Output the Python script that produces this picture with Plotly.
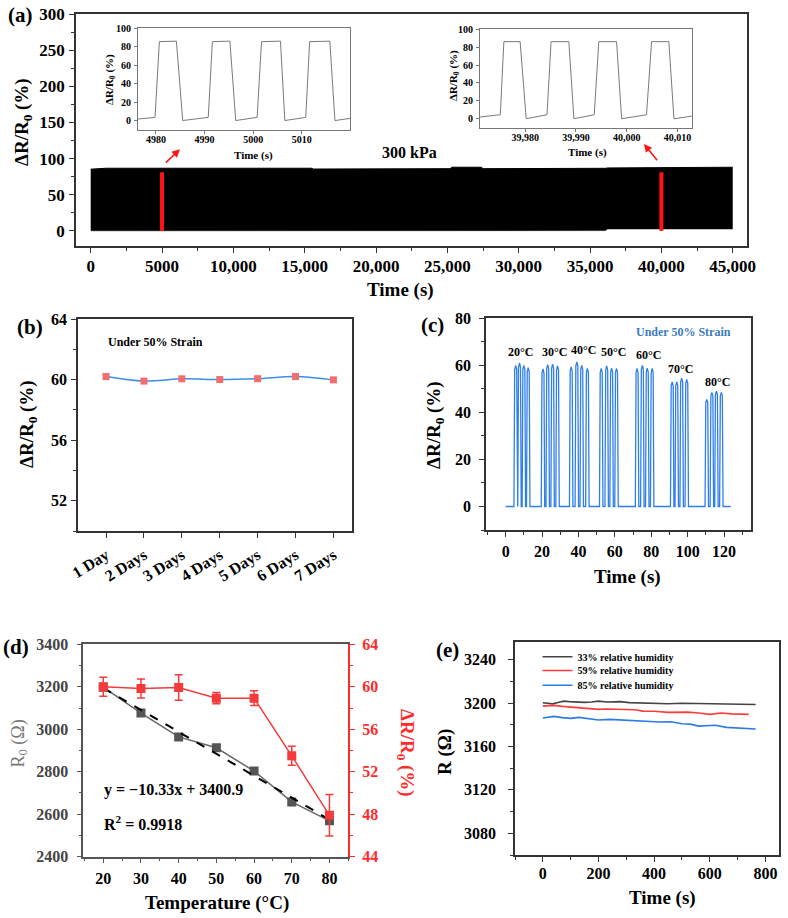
import plotly.graph_objects as go

W, H = 788, 918
FONT = "Liberation Serif"

# ---------------- Panel (a) data ----------------
a_env_t = [0, 1100, 15500, 15600, 25200, 25300, 27400, 27500, 36100, 36200, 45000]
a_env_upper = [85.3, 86.6, 86.6, 85.5, 86.0, 88.0, 88.0, 86.0, 86.5, 87.0, 88.0]
a_env_lower = [0.0, 0.0, 0.0, 0.6, 0.5, 0.5, 0.5, 0.5, 0.3, 2.5, 2.5]
a_marked_t = [5000, 40000]
a_marked_top = [81, 81]
a_xtickvals = [0, 5000, 10000, 15000, 20000, 25000, 30000, 35000, 40000, 45000]
a_xticktext = ["0", "5000", "10,000", "15,000", "20,000", "25,000", "30,000", "35,000", "40,000", "45,000"]

ins1_t = [4976.3, 4979.8, 4980.7, 4984.2, 4985.5, 4990.75, 4991.6, 4995.2, 4996.4,
          5000.8, 5001.7, 5005.6, 5006.5, 5010.8, 5011.6, 5015.75, 5016.8, 5019.9]
ins1_v = [1.8, 3.6, 85.3, 85.8, 0.2, 3.6, 85.3, 85.8, 0.2,
          3.6, 85.3, 85.8, 0.2, 3.6, 85.3, 85.8, 0.2, 2.5]
ins2_t = [39971.1, 39975.1, 39975.8, 39979.0, 39980.2, 39984.3, 39985.1, 39988.6, 39989.6,
          39993.6, 39994.5, 39998.0, 39999.0, 40003.9, 40004.9, 40008.3, 40009.3, 40012.9]
ins2_v = [1.9, 4.5, 86.2, 86.2, 0.0, 4.5, 86.2, 86.2, 0.0,
          4.5, 86.2, 86.2, 0.0, 4.5, 86.2, 86.2, 0.0, 3.0]

# ---------------- Panel (b) data ----------------
b_days = ["1 Day", "2 Days", "3 Days", "4 Days", "5 Days", "6 Days", "7 Days"]
b_vals = [60.2, 59.9, 60.05, 60.0, 60.06, 60.2, 59.98]

# ---------------- Panel (c) data ----------------
c_peak_t = [5.5, 7.6, 10.0, 12.4, 20.5, 23.1, 25.8, 28.5, 36.0, 39.1, 41.8, 44.9,
            52.5, 55.5, 58.2, 60.9, 72.2, 75.1, 77.8, 80.5, 91.5, 94.0, 96.7, 99.5,
            110.5, 113.3, 115.8, 118.5]
c_peak_h = [60.0, 61.0, 60.0, 59.0, 58.5, 60.3, 60.5, 59.8, 59.3, 61.5, 60.0, 58.7,
            58.7, 59.8, 58.8, 58.7, 58.7, 60.0, 58.8, 58.7, 53.0, 53.0, 54.5, 54.0,
            45.5, 48.5, 49.0, 48.5]
c_t_start, c_t_end = 0.0, 123.6
c_labels = ["20°C", "30°C", "40°C", "50°C", "60°C", "70°C", "80°C"]
c_label_x = [7.9, 27.0, 43.0, 59.0, 78.7, 96.3, 116.6]
c_label_y = [65.7, 65.7, 66.6, 65.7, 64.4, 58.5, 53.0]

# ---------------- Panel (d) data ----------------
d_temp = [20, 30, 40, 50, 60, 70, 80]
d_r0 = [3198, 3076, 2964, 2913, 2803, 2658, 2569]
d_resp = [60.0, 59.84, 59.94, 58.93, 58.93, 53.5, 47.9]
d_err = [0.9, 0.9, 1.2, 0.53, 0.7, 0.9, 1.96]
d_fit_slope, d_fit_intercept = -10.33, 3400.9

# ---------------- Panel (e) data ----------------
e33_t = [0, 20, 35, 55, 75, 95, 120, 150, 175, 200, 230, 260, 280, 310, 350, 400, 450, 500, 550, 600, 650, 700, 765]
e33_r = [3200.3, 3199.8, 3199.3, 3200.6, 3201.8, 3201.3, 3200.9, 3200.6, 3201.0, 3201.8, 3201.0, 3201.2,
         3201.3, 3200.4, 3200.0, 3199.7, 3199.4, 3199.8, 3199.6, 3200.0, 3199.3, 3199.4, 3198.7]
e59_t = [0, 20, 40, 70, 100, 140, 170, 200, 230, 260, 300, 330, 360, 400, 450, 480, 520, 560, 600, 640, 680, 740]
e59_r = [3197.2, 3197.6, 3197.9, 3197.0, 3196.3, 3195.6, 3195.0, 3194.2, 3194.6, 3194.3, 3194.2, 3193.8,
         3192.6, 3192.4, 3191.4, 3191.8, 3191.7, 3190.9, 3189.6, 3190.8, 3190.0, 3189.6]
e85_t = [0, 20, 40, 70, 100, 130, 160, 200, 240, 300, 340, 380, 420, 460, 500, 530, 560, 600, 620, 660, 700, 740, 765]
e85_r = [3186.2, 3187.0, 3187.7, 3186.6, 3185.9, 3186.8, 3186.0, 3184.4, 3185.0, 3184.1, 3184.0, 3183.4,
         3182.5, 3182.8, 3181.0, 3180.6, 3178.8, 3179.3, 3179.5, 3177.6, 3177.0, 3176.4, 3176.1]
e_names = ["33% relative humidity", "59% relative humidity", "85% relative humidity"]


def px(x):
    return x / W


def py(y):
    return 1 - y / H


def tf(size=16, color="black", weight="bold"):
    return dict(family=FONT, size=size, color=color, weight=weight)


def axis(domain, rng, lc="#333", lw=1.5, size=16, tlen=5, standoff=None, **kw):
    d = dict(domain=domain, range=rng, showline=True, linecolor=lc, linewidth=lw,
             ticks="outside", ticklen=tlen, tickwidth=1.2, tickcolor=lc, automargin=False,
             showgrid=False, zeroline=False, tickfont=tf(size), mirror=True)
    if standoff is not None:
        d["ticklabelstandoff"] = standoff
    d.update(kw)
    return d


fig = go.Figure()

# ---- (a) main band
fig.add_trace(go.Scatter(x=a_env_t, y=a_env_lower, mode="lines", line=dict(color="black", width=0.5),
                         xaxis="x", yaxis="y", showlegend=False, hoverinfo="skip"))
fig.add_trace(go.Scatter(x=a_env_t, y=a_env_upper, mode="lines", fill="tonexty", fillcolor="black",
                         line=dict(color="black", width=1), xaxis="x", yaxis="y",
                         showlegend=False, hoverinfo="skip"))
rx, ry = [], []
for t, top in zip(a_marked_t, a_marked_top):
    rx += [t, t, None]
    ry += [0, top, None]
fig.add_trace(go.Scatter(x=rx, y=ry, mode="lines", line=dict(color="#ff1414", width=4),
                         xaxis="x", yaxis="y", showlegend=False))
# insets
fig.add_trace(go.Scatter(x=ins1_t, y=ins1_v, mode="lines", line=dict(color="#7a7a7a", width=1),
                         xaxis="x2", yaxis="y2", showlegend=False))
fig.add_trace(go.Scatter(x=ins2_t, y=ins2_v, mode="lines", line=dict(color="#7a7a7a", width=1),
                         xaxis="x3", yaxis="y3", showlegend=False))

# ---- (b)
fig.add_trace(go.Scatter(x=b_days, y=b_vals, mode="lines+markers",
                         line=dict(color="#3b8de6", width=1.5, shape="spline"),
                         marker=dict(symbol="square", size=7, color="#f26d6d"),
                         xaxis="x4", yaxis="y4", showlegend=False))

# ---- (c)
cx, cy = [c_t_start, c_peak_t[0] - 1.0], [0.0, 0.0]
for t, h in zip(c_peak_t, c_peak_h):
    cx += [t - 0.95, t - 0.55, t, t + 0.55, t + 0.95]
    cy += [0.0, h * 0.97, h, h * 0.97, 0.0]
cx.append(c_t_end)
cy.append(0.0)
fig.add_trace(go.Scatter(x=cx, y=cy, mode="lines", line=dict(color="#2f7fe8", width=1.3),
                         xaxis="x5", yaxis="y5", showlegend=False))

# ---- (d)
fig.add_trace(go.Scatter(x=d_temp, y=d_r0, mode="lines+markers", line=dict(color="#666", width=1.5),
                         marker=dict(symbol="square", size=9, color="#555"),
                         xaxis="x6", yaxis="y6", showlegend=False))
fit_x = [d_temp[0], d_temp[-1]]
fit_y = [d_fit_slope * v + d_fit_intercept for v in fit_x]
fig.add_trace(go.Scatter(x=fit_x, y=fit_y, mode="lines", line=dict(color="black", width=2, dash="dash"),
                         xaxis="x6", yaxis="y6", showlegend=False))
fig.add_trace(go.Scatter(x=d_temp, y=d_resp, mode="lines+markers", line=dict(color="#f33b3b", width=1.5),
                         marker=dict(symbol="square", size=9, color="#f33b3b"),
                         error_y=dict(type="data", array=d_err, color="#f33b3b", thickness=1.5, width=4),
                         xaxis="x6", yaxis="y7", showlegend=False))

# ---- (e)
for (t, r, col, lg, nm) in [(e33_t, e33_r, "#444444", "legend", e_names[0]),
                            (e59_t, e59_r, "#ff3b3b", "legend2", e_names[1]),
                            (e85_t, e85_r, "#2c7be5", "legend3", e_names[2])]:
    fig.add_trace(go.Scatter(x=t, y=r, mode="lines", line=dict(color=col, width=1.6), name=nm,
                             xaxis="x7", yaxis="y8", showlegend=True, legend=lg))

red = "#ff2b2b"
layout = dict(
    width=W, height=H, margin=dict(l=0, r=0, t=0, b=0, pad=0, autoexpand=False),
    paper_bgcolor="white", plot_bgcolor="white",
    # (a)
    xaxis=axis([px(76), px(747)], [-1030, 46000], anchor="y", tickvals=a_xtickvals,
               ticktext=a_xticktext, size=17, standoff=-1,
               minor=dict(ticks="outside", dtick=2500, ticklen=3, tickcolor="#333")),
    yaxis=axis([py(246), py(14)], [-21, 300], anchor="x", dtick=50, size=17, standoff=1,
               minor=dict(ticks="outside", dtick=25, ticklen=3, tickcolor="#333")),
    xaxis2=axis([px(138), px(350)], [4976.3, 5019.9], anchor="y2", lc="#777", lw=1, size=10, tlen=3,
                dtick=10, tick0=4980, standoff=-3),
    yaxis2=axis([py(130), py(28)], [-10, 100], anchor="x2", lc="#777", lw=1, size=10, tlen=3,
                dtick=20, standoff=1),
    xaxis3=axis([px(480), px(691.7)], [39971.1, 40012.8], anchor="y3", lc="#777", lw=1, size=10, tlen=3,
                dtick=10, tick0=39980, tickformat=",d", standoff=-3),
    yaxis3=axis([py(127.7), py(29.3)], [-10, 100], anchor="x3", lc="#777", lw=1, size=10, tlen=3,
                dtick=20, standoff=1),
    # (b)
    xaxis4=axis([px(78), px(352)], [-0.74, 6.49], anchor="y4", type="category", tickangle=-32,
                standoff=2),
    yaxis4=axis([py(531), py(319)], [50, 64], anchor="x4", tickvals=[52, 56, 60, 64], standoff=1,
                minor=dict(ticks="outside", dtick=2, tick0=50, ticklen=3, tickcolor="#333")),
    # (c)
    xaxis5=axis([px(486), px(751)], [-10.8, 134.8], anchor="y5", dtick=20, standoff=1,
                minor=dict(ticks="outside", dtick=10, ticklen=3, tickcolor="#333")),
    yaxis5=axis([py(530), py(318.3)], [-10, 80], anchor="x5", dtick=20, standoff=5,
                minor=dict(ticks="outside", dtick=10, ticklen=3, tickcolor="#333")),
    # (d)
    xaxis6=axis([px(83.3), px(348.3)], [14.7, 85], anchor="y6", dtick=10, standoff=1, lc="#555",
                minor=dict(ticks="outside", dtick=5, ticklen=3, tickcolor="#555")),
    yaxis6=axis([py(856.7), py(644.3)], [2400, 3400], anchor="x6", dtick=200, standoff=5, lc="#555",
                mirror=False, tickfont=tf(16, "#444"),
                minor=dict(ticks="outside", dtick=100, ticklen=3, tickcolor="#555")),
    yaxis7=axis([py(856.7), py(644.3)], [44, 64], anchor="x6", overlaying="y6", side="right",
                dtick=4, standoff=4, lc=red, mirror=False, tickfont=tf(16, red),
                minor=dict(ticks="outside", dtick=2, ticklen=3, tickcolor=red)),
    # (e)
    xaxis7=axis([px(515), px(779.3)], [-100, 850], anchor="y8", dtick=200, standoff=-2,
                minor=dict(ticks="outside", dtick=100, ticklen=3, tickcolor="#333")),
    yaxis8=axis([py(855), py(642.3)], [3060, 3256], anchor="x7", tickvals=[3080, 3120, 3160, 3200, 3240],
                standoff=9, minor=dict(ticks="outside", dtick=20, tick0=3060, ticklen=3, tickcolor="#333")),
)

leg_common = dict(font=tf(10), bgcolor="rgba(0,0,0,0)", xanchor="left", yanchor="middle",
                  itemwidth=30, borderwidth=0)
layout["legend"] = dict(x=px(537.5), y=py(656.7), **leg_common)
layout["legend2"] = dict(x=px(537.5), y=py(670.5), **leg_common)
layout["legend3"] = dict(x=px(537.5), y=py(685.3), **leg_common)

ann = []


def label(text, x, y, size=19, angle=0, color="black", weight="bold", xanchor="center"):
    ann.append(dict(text=text, x=px(x), y=py(y), xref="paper", yref="paper", showarrow=False,
                    textangle=angle, font=tf(size, color, weight), xanchor=xanchor, yanchor="middle"))


YT = "ΔR/R<sub>0</sub> (%)"
# panel letters
label("(a)", 20, 15, 21)
label("(b)", 30, 327, 21)
label("(c)", 432, 325, 21)
label("(d)", 16, 647, 21)
label("(e)", 447, 650, 21)
# (a)
label(YT, 23, 122, 19, -90)
label("Time (s)", 400, 290, 19)
label("300 kPa", 410, 152, 16)
label(YT, 110, 80, 11, -90)
label("Time (s)", 253, 155, 11)
label(YT, 454, 76, 11, -90)
label("Time (s)", 587, 153, 11)
# (b)
label(YT, 28, 424, 19, -90)
label("Under 50% Strain", 106, 342, 12, xanchor="left")
# (c)
label(YT, 435, 425, 19, -90)
label("Time (s)", 627, 577, 19)
label("Under 50% Strain", 683, 332, 12, color="#3a7cc0")
for t, xx, yy in zip(c_labels, c_label_x, c_label_y):
    ann.append(dict(text=t, x=xx, y=yy, xref="x5", yref="y5", showarrow=False,
                    font=tf(12), xanchor="center", yanchor="middle"))
# (d)
label("R<sub>0</sub> (Ω)", 18.5, 744, 18, -90, color="#777", weight="normal")
label(YT, 406, 753, 19, 90, color=red)
label("Temperature (°C)", 217, 903, 19)
label("y = −10.33x + 3400.9", 101.7, 790, 16, xanchor="left")
label("R<sup>2</sup> = 0.9918", 101.7, 823, 16, xanchor="left")
# (e)
label("R (Ω)", 445, 752, 19, -90)
label("Time (s)", 662, 898, 19)

# arrows in panel (a)
for (hx, hy, tx, ty) in [(180, 149.3, 164.3, 164), (644, 144, 658.3, 161.7)]:
    ann.append(dict(text="", x=px(hx), y=py(hy), xref="paper", yref="paper", showarrow=True,
                    ax=tx - hx, ay=ty - hy, arrowcolor="#ff1414", arrowwidth=1.6, arrowhead=2,
                    arrowsize=1))

layout["annotations"] = ann
fig.update_layout(**layout)
fig.write_html("out.html")
